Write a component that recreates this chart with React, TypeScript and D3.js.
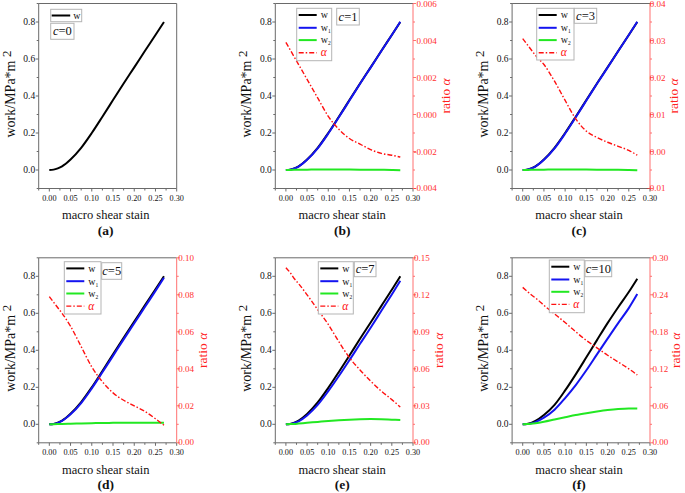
import React from 'react';
import * as d3 from 'd3';

// ---------- data ----------
const strain = [0, 0.01, 0.02, 0.03, 0.05, 0.075, 0.1, 0.125, 0.15, 0.175, 0.2, 0.225, 0.25, 0.27];

// (a) c=0
const wA = [0, 0.002, 0.009, 0.02, 0.057, 0.12, 0.2, 0.288, 0.378, 0.468, 0.555, 0.643, 0.73, 0.8];

// (b) c=1
const wB = [0, 0.002, 0.009, 0.02, 0.057, 0.12, 0.2, 0.288, 0.378, 0.468, 0.555, 0.643, 0.73, 0.8];
const w1B = [0, 0.0015, 0.008, 0.0185, 0.055, 0.117, 0.197, 0.285, 0.3755, 0.466, 0.5535, 0.642, 0.73, 0.801];
const w2B = [0, 0.0005, 0.001, 0.0015, 0.002, 0.003, 0.003, 0.003, 0.0025, 0.002, 0.0015, 0.001, 0, -0.001];
const alphaB = [0.0039, 0.0035, 0.0031, 0.0027, 0.0019, 0.0009, -0.0001, -0.0008, -0.0013, -0.0016, -0.0019, -0.0021, -0.0022, -0.0023];

// (c) c=3
const wC = [0, 0.002, 0.009, 0.02, 0.057, 0.12, 0.2, 0.288, 0.378, 0.468, 0.555, 0.643, 0.73, 0.8];
const w1C = [0, 0.0015, 0.008, 0.0185, 0.055, 0.117, 0.197, 0.285, 0.3755, 0.466, 0.5535, 0.642, 0.73, 0.801];
const w2C = [0, 0.0005, 0.001, 0.0015, 0.002, 0.003, 0.003, 0.003, 0.0025, 0.002, 0.0015, 0.001, 0, -0.001];
const alphaC = [0.0305, 0.029, 0.0275, 0.026, 0.0235, 0.019, 0.0138, 0.0088, 0.0055, 0.0038, 0.0025, 0.0014, 0.0003, -0.001];

// (d) c=5
const wD = [0, 0.002, 0.009, 0.02, 0.057, 0.12, 0.2, 0.288, 0.378, 0.468, 0.555, 0.643, 0.73, 0.8];
const w1D = [0, 0.0015, 0.008, 0.0185, 0.054, 0.115, 0.194, 0.281, 0.37, 0.459, 0.546, 0.634, 0.721, 0.792];
const w2D = [0, 0.0005, 0.001, 0.0015, 0.003, 0.0045, 0.006, 0.007, 0.008, 0.0085, 0.009, 0.009, 0.009, 0.009];
const alphaD = [0.079, 0.076, 0.073, 0.07, 0.063, 0.052, 0.041, 0.033, 0.027, 0.023, 0.02, 0.017, 0.013, 0.0095];

// (e) c=7
const wE = [0, 0.002, 0.009, 0.02, 0.056, 0.118, 0.197, 0.283, 0.372, 0.462, 0.55, 0.639, 0.727, 0.8];
const w1E = [0, 0.001, 0.007, 0.016, 0.048, 0.105, 0.179, 0.261, 0.347, 0.435, 0.522, 0.612, 0.702, 0.776];
const w2E = [0, 0.001, 0.002, 0.004, 0.008, 0.013, 0.018, 0.022, 0.025, 0.027, 0.028, 0.027, 0.025, 0.023];
const alphaE = [0.142, 0.138, 0.133, 0.129, 0.12, 0.108, 0.096, 0.082, 0.069, 0.059, 0.05, 0.042, 0.035, 0.029];

// (f) c=10
const wF = [0, 0.002, 0.008, 0.018, 0.05, 0.105, 0.183, 0.27, 0.362, 0.455, 0.547, 0.633, 0.715, 0.787];
const w1F = [0, 0.001, 0.005, 0.012, 0.036, 0.079, 0.142, 0.212, 0.292, 0.378, 0.463, 0.547, 0.628, 0.704];
const w2F = [0, 0.001, 0.003, 0.006, 0.014, 0.026, 0.038, 0.05, 0.06, 0.069, 0.077, 0.083, 0.086, 0.085];
const alphaF = [0.252, 0.246, 0.24, 0.235, 0.223, 0.209, 0.195, 0.18, 0.166, 0.154, 0.142, 0.131, 0.12, 0.11];

// ticks
const xTicks = [0, 0.05, 0.1, 0.15, 0.2, 0.25, 0.3];
const yTicks = [0, 0.2, 0.4, 0.6, 0.8];
const alphaTicksB = [-0.004, -0.002, 0, 0.002, 0.004, 0.006];
const alphaTicksC = [-0.01, 0, 0.01, 0.02, 0.03, 0.04];
const alphaTicksD = [0, 0.02, 0.04, 0.06, 0.08, 0.1];
const alphaTicksE = [0, 0.03, 0.06, 0.09, 0.12, 0.15];
const alphaTicksF = [0, 0.06, 0.12, 0.18, 0.24, 0.3];

// ---------- styling / layout ----------
const SERIF = "'Liberation Serif', 'Times New Roman', 'DejaVu Serif', serif";
const C_W = '#000000';
const C_W1 = '#1414f0';
const C_W2 = '#22e822';
const C_A = '#ff1010';
const C_FRAME = '#6a6a6a';
const C_RAXIS = '#ff7070';

type Panel = {
  tag: string; c: string;
  left: number; right: number; top: number; bottom: number;
  w: number[]; w1?: number[]; w2?: number[]; alpha?: number[];
  aTicks?: number[]; aDec?: number; aLabelOff?: number; ratioOff?: number;
  lg: { x: number; y: number; w: number; h: number };
  cb: { x: number; y: number; w: number; h: number };
};

const TOP = { top: 3.5, bottom: 188.5 };
const BOT = { top: 257.8, bottom: 442.8 };

const panels: Panel[] = [
  { tag: 'a', c: '0', left: 38.7, right: 176.7, ...TOP, w: wA,
    lg: { x: 50.7, y: 9.3, w: 31, h: 12.4 }, cb: { x: 50.7, y: 23.3, w: 23.3, h: 16 } },
  { tag: 'b', c: '1', left: 275.3, right: 413, ...TOP, w: wB, w1: w1B, w2: w2B, alpha: alphaB,
    aTicks: alphaTicksB, aDec: 3, aLabelOff: 23.7, ratioOff: 37,
    lg: { x: 296.7, y: 8.3, w: 35, h: 52.4 }, cb: { x: 336.7, y: 8.3, w: 22.6, h: 16.7 } },
  { tag: 'c', c: '3', left: 512.1, right: 650, ...TOP, w: wC, w1: w1C, w2: w2C, alpha: alphaC,
    aTicks: alphaTicksC, aDec: 2, aLabelOff: 15.6, ratioOff: 28,
    lg: { x: 536.7, y: 8.3, w: 37.3, h: 51.7 }, cb: { x: 574.3, y: 8.3, w: 22.4, h: 15 } },
  { tag: 'd', c: '5', left: 38.7, right: 176.7, ...BOT, w: wD, w1: w1D, w2: w2D, alpha: alphaD,
    aTicks: alphaTicksD, aDec: 2, aLabelOff: 17.3, ratioOff: 30,
    lg: { x: 64.3, y: 261.7, w: 36.7, h: 52.3 }, cb: { x: 101.7, y: 262.7, w: 20, h: 16.6 } },
  { tag: 'e', c: '7', left: 275.3, right: 413, ...BOT, w: wE, w1: w1E, w2: w2E, alpha: alphaE,
    aTicks: alphaTicksE, aDec: 2, aLabelOff: 16.7, ratioOff: 30,
    lg: { x: 318.3, y: 261.7, w: 35, h: 52.3 }, cb: { x: 354.3, y: 261.7, w: 21.7, h: 15 } },
  { tag: 'f', c: '10', left: 512.1, right: 650, ...BOT, w: wF, w1: w1F, w2: w2F, alpha: alphaF,
    aTicks: alphaTicksF, aDec: 2, aLabelOff: 18.3, ratioOff: 30,
    lg: { x: 549.3, y: 260, w: 35, h: 52.7 }, cb: { x: 585, y: 260.7, w: 26.7, h: 16 } },
];

function PanelView({ p }: { p: Panel }) {
  const x = d3.scaleLinear().domain([-0.025, 0.3]).range([p.left, p.right]);
  const y = d3.scaleLinear().domain([-0.1, 0.9]).range([p.bottom, p.top]);
  const aDom = p.aTicks ? [p.aTicks[0], p.aTicks[p.aTicks.length - 1]] : [0, 1];
  const ya = d3.scaleLinear().domain(aDom).range([p.bottom, p.top]);

  const line = (vals: number[], sc: d3.ScaleLinear<number, number>) =>
    d3.line<number>().x((_, i) => x(strain[i])).y((v) => sc(v)).curve(d3.curveMonotoneX)(vals) || '';

  const xMinor = d3.range(-0.025, 0.3001, 0.025);
  const yMinor = d3.range(-0.1, 0.9001, 0.1);
  const aMinor: number[] = [];
  if (p.aTicks) {
    for (let i = 0; i < p.aTicks.length - 1; i++) aMinor.push((p.aTicks[i] + p.aTicks[i + 1]) / 2);
  }
  const midY = (p.top + p.bottom) / 2;
  const midX = (p.left + p.right) / 2;
  const hasRight = !!p.alpha;

  const rows = [p.lg.y + 6.7, p.lg.y + 19.5, p.lg.y + 31.8, p.lg.y + 44.4];
  const lx0 = p.lg.x + 2, lx1 = p.lg.x + 20, tx = p.lg.x + 24;

  return (
    <g>
      {/* frame */}
      <line x1={p.left} x2={p.right} y1={p.top} y2={p.top} stroke={C_FRAME} strokeWidth={1} />
      <line x1={p.left} x2={p.right} y1={p.bottom} y2={p.bottom} stroke={C_FRAME} strokeWidth={1} />
      <line x1={p.left} x2={p.left} y1={p.top} y2={p.bottom} stroke={C_FRAME} strokeWidth={1} />
      <line x1={p.right} x2={p.right} y1={p.top} y2={p.bottom} stroke={hasRight ? C_RAXIS : C_FRAME} strokeWidth={1} />

      {/* x ticks */}
      {xMinor.map((t, i) => (
        <line key={'xm' + i} x1={x(t)} x2={x(t)} y1={p.bottom} y2={p.bottom + (i % 2 === 1 ? 3 : 2)} stroke={C_FRAME} />
      ))}
      {xTicks.map((t) => (
        <text key={'xt' + t} x={x(t)} y={p.bottom + 12} fontSize={8.2} textAnchor="middle" fill="#111">{t.toFixed(2)}</text>
      ))}
      {/* y ticks */}
      {yMinor.map((t, i) => (
        <line key={'ym' + i} x1={p.left} x2={p.left - (i % 2 === 1 ? 3 : 2)} y1={y(t)} y2={y(t)} stroke={C_FRAME} />
      ))}
      {yTicks.map((t) => (
        <text key={'yt' + t} x={p.left - 3.5} y={y(t) + 3} fontSize={9.5} textAnchor="end" fill="#111">{t.toFixed(1)}</text>
      ))}
      {/* right axis */}
      {hasRight && p.aTicks && (
        <g>
          {p.aTicks.map((t) => (
            <line key={'am' + t} x1={p.right} x2={p.right + 3} y1={ya(t)} y2={ya(t)} stroke={C_RAXIS} />
          ))}
          {aMinor.map((t, i) => (
            <line key={'an' + i} x1={p.right} x2={p.right + 2} y1={ya(t)} y2={ya(t)} stroke={C_RAXIS} />
          ))}
          {p.aTicks.map((t, i) => (
            <text key={'at' + t} x={p.right + (p.aLabelOff || 20)} y={ya(t) + (i === 0 ? 2 : 3)} fontSize={9} textAnchor="end" fill="#ff3030">
              {Math.abs(t) < 1e-9 ? (0).toFixed(p.aDec) : t.toFixed(p.aDec)}
            </text>
          ))}
          <text transform={`translate(${p.right + (p.ratioOff || 30)},${midY}) rotate(-90)`} textAnchor="middle" fontSize={13.5} fill="#ff2020">
            ratio <tspan fontStyle="italic">α</tspan>
          </text>
        </g>
      )}

      {/* axis titles */}
      <text transform={`translate(${p.left - 24},${midY - 2}) rotate(-90)`} textAnchor="middle" fontSize={14} fill="#111">
        work/MPa*m <tspan dy={-4} fontSize={13}>2</tspan>
      </text>
      <text x={midX - 2} y={p.bottom + 30.7} textAnchor="middle" fontSize={12.5} fill="#111">macro shear stain</text>
      <text x={midX - 2} y={p.bottom + 46} textAnchor="middle" fontSize={13.5} fontWeight="bold" fill="#111">({p.tag})</text>

      {/* curves */}
      <g fill="none">
        <path d={line(p.w, y)} stroke={C_W} strokeWidth={2} />
        {p.w1 && <path d={line(p.w1, y)} stroke={C_W1} strokeWidth={2} />}
        {p.w2 && <path d={line(p.w2, y)} stroke={C_W2} strokeWidth={2} />}
        {p.alpha && <path d={line(p.alpha, ya)} stroke={C_A} strokeWidth={1.4} strokeDasharray="5,2,1.5,2" />}
      </g>

      {/* legend */}
      <rect x={p.lg.x} y={p.lg.y} width={p.lg.w} height={p.lg.h} fill="#fff" stroke="#b5b5b5" strokeWidth={1} />
      {p.alpha ? (
        <g>
          <line x1={lx0} x2={lx1} y1={rows[0]} y2={rows[0]} stroke={C_W} strokeWidth={2} />
          <text x={tx} y={rows[0] + 3.3} fontSize={10} fill="#111">w</text>
          <line x1={lx0} x2={lx1} y1={rows[1]} y2={rows[1]} stroke={C_W1} strokeWidth={2} />
          <text x={tx} y={rows[1] + 3.3} fontSize={10} fill="#111">w<tspan fontSize={5.5} dy={2}>1</tspan></text>
          <line x1={lx0} x2={lx1} y1={rows[2]} y2={rows[2]} stroke={C_W2} strokeWidth={2} />
          <text x={tx} y={rows[2] + 3.3} fontSize={10} fill="#111">w<tspan fontSize={5.5} dy={2}>2</tspan></text>
          <line x1={lx0} x2={lx1} y1={rows[3]} y2={rows[3]} stroke={C_A} strokeWidth={1.4} strokeDasharray="5,2,1.5,2" />
          <text x={tx} y={rows[3] + 3.5} fontSize={11.5} fontStyle="italic" fill={C_A}>α</text>
        </g>
      ) : (
        <g>
          <line x1={p.lg.x + 1} x2={p.lg.x + 19.5} y1={p.lg.y + p.lg.h / 2} y2={p.lg.y + p.lg.h / 2} stroke={C_W} strokeWidth={2} />
          <text x={p.lg.x + 22.5} y={p.lg.y + p.lg.h / 2 + 3} fontSize={10} fill="#111">w</text>
        </g>
      )}
      <rect x={p.cb.x} y={p.cb.y} width={p.cb.w} height={p.cb.h} fill="#fff" stroke="#b5b5b5" strokeWidth={1} />
      <text x={p.cb.x + p.cb.w / 2} y={p.cb.y + p.cb.h / 2 + 4} textAnchor="middle" fontSize={12.5} fill="#111">
        <tspan fontStyle="italic">c</tspan>={p.c}
      </text>
    </g>
  );
}

export default function App() {
  return (
    <svg width={685} height={493} viewBox="0 0 685 493"
      style={{ position: 'absolute', left: 0, top: 0, background: '#fff', fontFamily: SERIF }}>
      <rect x={0} y={0} width={685} height={493} fill="#fff" />
      {panels.map((p) => (
        <PanelView key={p.tag} p={p} />
      ))}
    </svg>
  );
}
